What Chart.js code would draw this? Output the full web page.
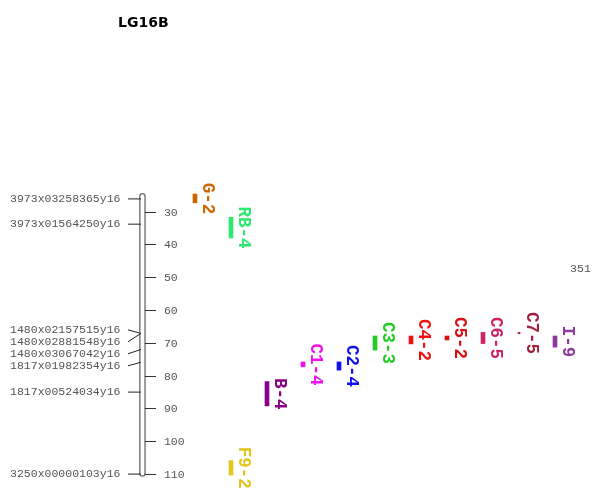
<!DOCTYPE html>
<html>
<head>
<meta charset="utf-8">
<script src="https://cdn.jsdelivr.net/npm/chart.js@4/dist/chart.umd.min.js"></script>
<style>
  html, body { margin: 0; padding: 0; background: #fff; }
  #wrap { width: 592px; height: 491px; }
</style>
</head>
<body>
<div id="wrap"><canvas id="map" width="592" height="491"></canvas></div>
<script>
// Linkage group LG16B: markers (cM) and QTL support intervals
const groupName = 'LG16B';

const markerNames = [
  '3973x03258365y16', '3973x01564250y16', '1480x02157515y16', '1480x02881548y16',
  '1480x03067042y16', '1817x01982354y16', '1817x00524034y16', '3250x00000103y16'
];
const markerPos = [26.1, 33.8, 67.1, 67.1, 72.0, 75.9, 85.0, 110.0];

const chromosomeSpan = [24.5, 110.6];
const tickValues = [30, 40, 50, 60, 70, 80, 90, 100, 110];

const qtlNames   = ['G-2', 'RB-4', 'F9-2', 'B-4', 'C1-4', 'C2-4', 'C3-3', 'C4-2', 'C5-2', 'C6-5', 'C7-5', 'I-9'];
const qtlColumn  = [0, 1, 1, 2, 3, 4, 5, 6, 7, 8, 9, 10];
const qtlStart   = [24.6, 31.7, 105.9, 81.8, 75.8, 75.8, 67.9, 67.9, 67.9, 66.8, 66.8, 67.9];
const qtlEnd     = [27.3, 38.0, 110.3, 89.2, 77.3, 78.3, 72.2, 70.3, 69.1, 70.2, 67.2, 71.3];
const qtlColors  = ['#cc6600', '#2ee870', '#e5c51a', '#880088', '#ee11ee', '#1111ee',
                    '#22cc22', '#ee1111', '#d81010', '#cc2266', '#a0213f', '#8e3a9c'];

// Label of the neighbouring group, cut by the right edge
const edgeLabel = '351';
const edgeLabelPos = 47.4;

// Layout: one QTL column = 36 px, chromosome sits left of column 0
const COL_W = 36;
const X_MIN = -195 / COL_W;
const CHROM_X = -1.46;
const EDGE_X = 10.42;

const mono = '"Liberation Mono", "DejaVu Sans Mono", monospace';

// group crowded marker labels and centre each group between its first and last marker
function spreadLabels(ys, gap) {
  let groups = ys.map((y, i) => ({ first: i, last: i }));
  const place = g => {
    const n = g.last - g.first + 1;
    const mid = (ys[g.first] + ys[g.last]) / 2;
    g.top = mid - (n - 1) * gap / 2;
    g.bottom = g.top + (n - 1) * gap;
  };
  groups.forEach(place);
  let merged = true;
  while (merged) {
    merged = false;
    for (let i = 0; i < groups.length - 1; i++) {
      if (groups[i + 1].top - groups[i].bottom < gap - 0.01) {
        const g = { first: groups[i].first, last: groups[i + 1].last };
        place(g);
        groups.splice(i, 2, g);
        merged = true;
        break;
      }
    }
  }
  const out = [];
  groups.forEach(g => {
    for (let k = g.first; k <= g.last; k++) out[k] = g.top + (k - g.first) * gap;
  });
  return out;
}

const linkageMap = {
  id: 'linkageMap',
  afterDatasetsDraw(chart) {
    const ctx = chart.ctx;
    const xs = chart.scales.x, ys = chart.scales.y;
    const cx = xs.getPixelForValue(CHROM_X);
    ctx.save();

    // title
    ctx.fillStyle = '#000';
    ctx.font = 'bold 14px "DejaVu Sans", sans-serif';
    ctx.textAlign = 'left';
    ctx.textBaseline = 'alphabetic';
    ctx.fillText(groupName, 118, 27);

    // chromosome bar
    const top = ys.getPixelForValue(chromosomeSpan[0]);
    const bot = ys.getPixelForValue(chromosomeSpan[1]);
    const w = 5.2;
    ctx.beginPath();
    ctx.roundRect(cx - w / 2, top, w, bot - top, 2.6);
    ctx.fillStyle = '#fff';
    ctx.fill();
    ctx.strokeStyle = '#6a6a6a';
    ctx.lineWidth = 1.3;
    ctx.stroke();

    // scale ticks on the right side
    ctx.strokeStyle = '#333';
    ctx.lineWidth = 1;
    ctx.fillStyle = '#555';
    ctx.font = '11.5px ' + mono;
    ctx.textBaseline = 'middle';
    ctx.textAlign = 'left';
    tickValues.forEach(v => {
      const y = Math.round(ys.getPixelForValue(v)) + 0.5;
      ctx.beginPath();
      ctx.moveTo(cx + 2.5, y);
      ctx.lineTo(cx + 13.5, y);
      ctx.stroke();
      ctx.fillText(String(v), cx + 21.5, y);
    });

    // marker names on the left side
    const my = markerPos.map(v => ys.getPixelForValue(v));
    const ly = spreadLabels(my, 12);
    ctx.textAlign = 'right';
    markerNames.forEach((name, i) => {
      ctx.beginPath();
      ctx.moveTo(cx - 14.5, ly[i]);
      ctx.lineTo(cx - 1.5, my[i]);
      ctx.strokeStyle = '#222';
      ctx.stroke();
      ctx.fillText(name, cx - 22, ly[i]);
    });

    // neighbouring group label at the edge
    ctx.textAlign = 'left';
    ctx.fillText(edgeLabel, xs.getPixelForValue(EDGE_X), ys.getPixelForValue(edgeLabelPos));

    // QTL names, rotated along each interval
    ctx.font = 'bold 17.5px ' + mono;
    ctx.textAlign = 'center';
    ctx.textBaseline = 'alphabetic';
    qtlNames.forEach((name, i) => {
      const bar = chart.getDatasetMeta(i).data[0];
      const yMid = (ys.getPixelForValue(qtlStart[i]) + ys.getPixelForValue(qtlEnd[i])) / 2;
      ctx.save();
      ctx.translate(bar.x + 8, yMid);
      ctx.rotate(Math.PI / 2);
      ctx.fillStyle = qtlColors[i];
      ctx.fillText(name, 0, 0);
      ctx.restore();
    });

    ctx.restore();
  }
};

new Chart(document.getElementById('map'), {
  type: 'bar',
  data: {
    datasets: qtlNames.map((name, i) => ({
      label: name,
      data: [{ x: qtlColumn[i], y: [qtlStart[i], qtlEnd[i]] }],
      backgroundColor: qtlColors[i],
      borderWidth: 0,
      barThickness: name === 'C7-5' ? 2 : 4,
      grouped: false
    }))
  },
  options: {
    responsive: false,
    animation: false,
    layout: { padding: 0 },
    plugins: { legend: { display: false }, title: { display: false }, tooltip: { enabled: false } },
    scales: {
      x: { type: 'linear', display: false, offset: false, min: X_MIN, max: X_MIN + 592 / COL_W, grid: { display: false } },
      y: { type: 'linear', display: false, reverse: true, min: 30 - 211.7 / 3.28, max: 30 - 211.7 / 3.28 + 491 / 3.28, grid: { display: false } }
    }
  },
  plugins: [linkageMap]
});
</script>
</body>
</html>
